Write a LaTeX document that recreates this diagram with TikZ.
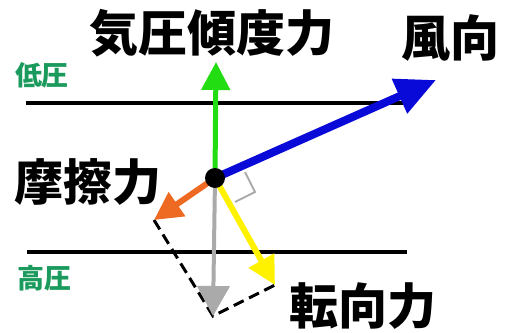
\documentclass[tikz,border=0pt]{standalone}
\usepackage{fontspec}
\newfontfamily\cjk{Noto Sans CJK JP Black}
\newfontfamily\cjkb{Noto Sans CJK JP}
\usetikzlibrary{arrows.meta}
\definecolor{lblgreen}{HTML}{1A9A5C}
\definecolor{fgreen}{HTML}{22DD11}
\definecolor{fblue}{HTML}{0A0AD8}
\definecolor{forange}{HTML}{EE6A22}
\definecolor{fgray}{HTML}{AAAAAA}
\definecolor{fyellow}{HTML}{FFF200}
\tikzset{
  big/.style={font=\cjk\fontsize{49}{49}\selectfont, inner sep=0pt},
  small/.style={font=\cjkb\bfseries\fontsize{27}{27}\selectfont, inner sep=0pt, text=lblgreen},
  isobar/.style={line width=4pt},
  force/.style={-{Triangle[length=28pt,width=28pt]}},
}
\begin{document}
\begin{tikzpicture}[x=1pt,y=-1pt]
\useasboundingbox[fill=white] (0,0) rectangle (506,332);
% isobars
\coordinate (l1a) at (26,103); \coordinate (l1b) at (408,103);
\coordinate (l2a) at (27,252); \coordinate (l2b) at (407,252);
\draw[isobar] (l1a) -- (l1b);
\draw[isobar] (l2a) -- (l2b);
% points
\coordinate (c) at (215,178);
\coordinate (pg) at (216,62);
\coordinate (pw) at (436,80);
\coordinate (pf) at (154,220);
\coordinate (pr) at (213,316);
\coordinate (pc) at (275,285);
\coordinate (m1) at (245,172);
\coordinate (m2) at (255,192);
\coordinate (m3) at (235,202);
% right angle mark
\draw[fgray, line width=2pt] (m1) -- (m2) -- (m3);
% dashed parallelogram
\draw[line width=3pt, dash pattern=on 11pt off 6pt] (pf) -- (pr) -- (pc);
% forces
\draw[force, fgray, line width=4pt, -{Triangle[length=30pt,width=32pt]}] (c) -- (pr);
\draw[force, fgreen, line width=5pt] (c) -- (pg);
\draw[force, forange, line width=6pt] (c) -- (pf);
\draw[force, fyellow, line width=6pt] (c) -- (pc);
\draw[fblue, line width=8pt, -{Triangle[length=40pt,width=36pt]}] (c) -- (pw);
\fill (c) circle (10pt);
% labels
\node[big] (tg) at (212,33) {気圧傾度力};
\node[big] (tw) at (450,38) {風向};
\node[big] (tf) at (88,182) {摩擦力};
\node[big] (tc) at (363,306) {転向力};
\node[small] (tl) at (42,75) {低圧};
\node[small] (th) at (44,278) {高圧};
\end{tikzpicture}
\end{document}
